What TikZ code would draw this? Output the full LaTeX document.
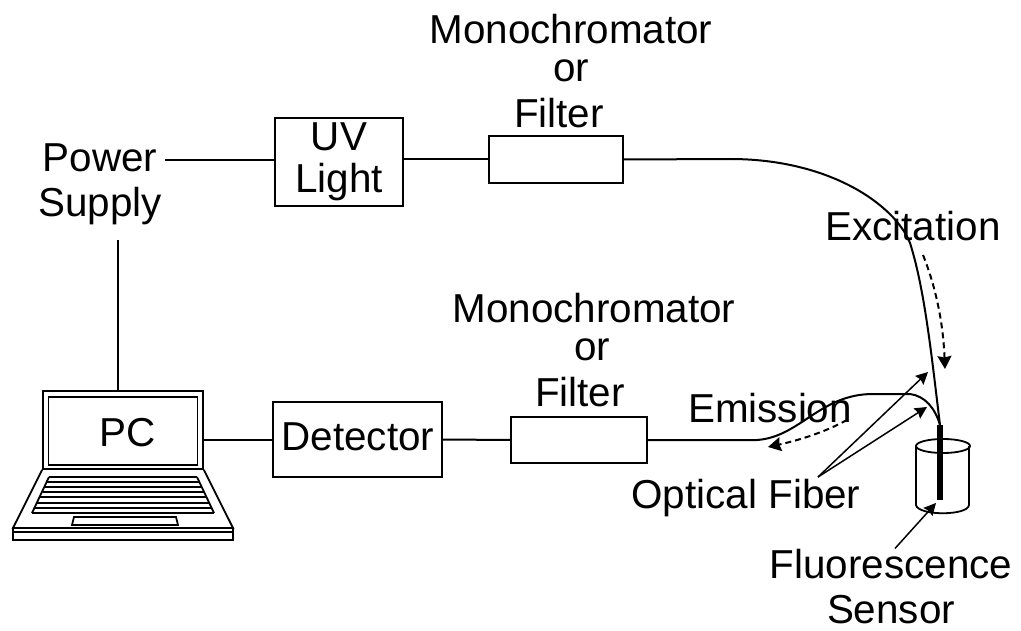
\documentclass[tikz,border=0pt]{standalone}
\usepackage{fontspec}
\setmainfont{Liberation Sans}
\usetikzlibrary{arrows.meta, calc}

\begin{document}
\begin{tikzpicture}[
    x=1pt, y=-1pt,
    box/.style={draw, line width=1.8pt, inner sep=0pt, align=center},
    lbl/.style={inner sep=0pt, align=center, font=\fontsize{40.4}{45}\selectfont},
    wire/.style={line width=2pt},
    arr/.style={-{Stealth[length=12pt,width=12pt,inset=1.5pt]}, line width=1.5pt},
    dasharr/.style={-{Stealth[length=13pt,width=14pt,inset=1.5pt]}, line width=2pt, dash pattern=on 6pt off 4pt},
    lap/.style={line width=1.8pt}
]
\useasboundingbox (0,0) rectangle (1021,631);

% boxes
\node[box, minimum width=128pt, minimum height=88pt] (uv) at (339,162) {};
\node[box, minimum width=134pt, minimum height=47pt] (filta) at (556,159.5) {};
\node[box, minimum width=169pt, minimum height=75pt] (det) at (357.5,439.5) {};
\node[box, minimum width=136pt, minimum height=46pt] (filtb) at (579,440) {};

% labels
\node[lbl] (uvl)   at (339,137) {UV};
\node[lbl] (light) at (339,182) {Light};
\node[lbl] (detl)  at (358,437) {Detector};
\node[lbl] (monoa) at (571,29)  {Monochromator};
\node[lbl] (ora)   at (571,71)  {or};
\node[lbl] (fa)    at (559,113) {Filter};
\node[lbl] (monob) at (594,308) {Monochromator};
\node[lbl] (orb)   at (592,350) {or};
\node[lbl] (fb)    at (580,392) {Filter};
\node[lbl] (power) at (100,184) {Power\\Supply};
\node[lbl] (excit) at (913,226) {Excitation};
\node[lbl] (emis)  at (770,408) {Emission};
\node[lbl] (fiber) at (746,498) {Optical Fiber};
\node[lbl] (sensor) at (891,587) {Fluorescence\\Sensor};

% laptop
\node[draw, lap, minimum width=160pt, minimum height=78pt] (lid) at (123,430) {};
\node[draw, lap, minimum width=149pt, minimum height=68pt] (screen) at (123,431) {};
\node[lbl] (pc) at (128,433) {PC};
\draw[lap] (lid.south west) -- (13,528) -- (233,528) -- (lid.south east);
\draw[lap] (13,528) rectangle (233,540);
\draw[lap] (13,532) -- (233,532);
\foreach \ya/\xa/\xb in {477/49/197, 482/47/199, 487/45/201, 492/43/204, 497/40/207, 503/37/210, 508/35/212, 513/32/214}
    \draw[lap] (\xa,\ya) -- (\xb,\ya);
\draw[lap] (49,477) -- (32,513);
\draw[lap] (197,477) -- (214,513);
\draw[lap] (74,517) -- (176,517) -- (178,525) -- (72,525) -- cycle;

% connectors
\coordinate (pwr) at (165,160);
\coordinate (pwd) at (118,240);
\draw[wire] (pwr) -- (uv.west |- pwr);
\draw[wire] (uv.east |- filta) -- (filta.west);
\draw[wire] (pwd) -- (pwd |- lid.north);
\draw[wire] (lid.east |- det) -- (det.west);
\draw[wire] (det.east) -- (filtb.west);

% cylinder
\coordinate (tipa) at (940,425);
\coordinate (tipb) at (940,500);
\draw[lap] (943,446) ellipse (27pt and 7pt);
\draw[lap] (916,446) -- (916,505) .. controls (918,516) and (968,516) .. (969,505) -- (969,446);

% fibers
\draw[wire] (filta.east) -- (730,159) .. controls (830,159) and (895,205) .. (910,243)
    .. controls (925,290) and (932,360) .. (tipa);
\draw[wire] (filtb.east) -- (757,440) .. controls (800,437) and (820,394) .. (873,394)
    -- (910,394) .. controls (925,396) and (935,408) .. (tipa);
\draw[line width=6pt] (tipa) -- (tipb);

% arrows
\coordinate (fibs) at (818,477);
\draw[arr] (fibs) -- (928,372);
\draw[arr] (fibs) -- (927,407);
\draw[arr] ($(sensor.north)+(4,-1)$) -- (936,503);
\draw[dasharr] (923,255) .. controls (935,285) and (943,320) .. (945,369);
\draw[dasharr] (847,420) .. controls (825,432) and (800,440) .. (768,447);
\end{tikzpicture}
\end{document}
